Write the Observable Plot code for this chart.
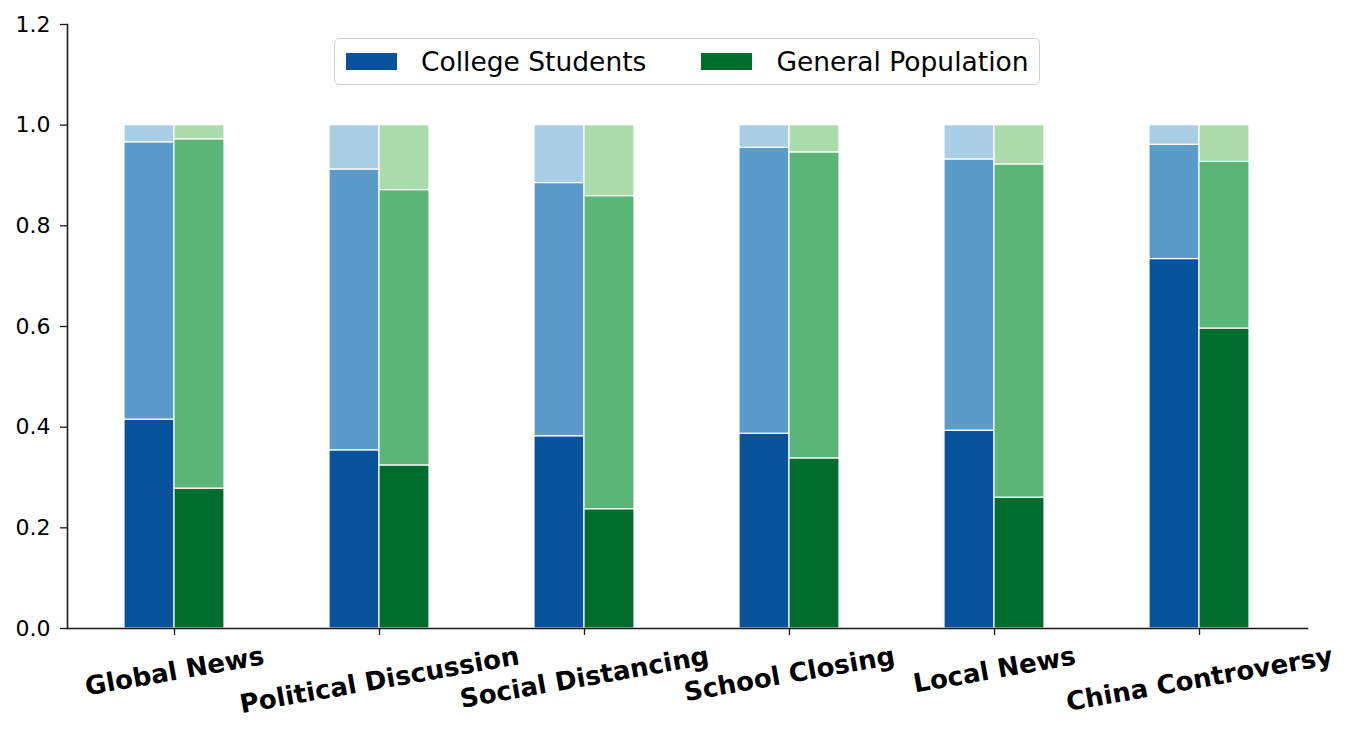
<!DOCTYPE html>
<html>
<head>
<meta charset="utf-8">
<script src="https://cdn.jsdelivr.net/npm/d3@7"></script>
<script src="https://cdn.jsdelivr.net/npm/@observablehq/plot@0.6"></script>
<style>
  html, body { margin: 0; padding: 0; background: #fff; }
  #wrap { position: relative; width: 1354px; height: 736px; font-family: "DejaVu Sans", sans-serif; }
  #legend {
    position: absolute; left: 334px; top: 38px; width: 706px; height: 47px;
    box-sizing: border-box; border: 1.5px solid #d2d2d2; border-radius: 5px;
    background: rgba(255,255,255,0.85); display: flex; align-items: center;
    font: 26.5px "DejaVu Sans", sans-serif; color: #000;
  }
  .sw { display: inline-block; width: 51px; height: 17px; }
</style>
</head>
<body>
<div id="wrap">
  <div id="chart"></div>
  <div id="legend">
    <span class="sw" style="margin-left:11px;background:#08529c"></span>
    <span style="margin-left:24px">College Students</span>
    <span class="sw" style="margin-left:55px;background:#006d2f"></span>
    <span style="margin-left:24px">General Population</span>
  </div>
</div>
<script>
const categories = ["Global News", "Political Discussion", "Social Distancing", "School Closing", "Local News", "China Controversy"];
// cumulative tops of the stacked segments (light segment always reaches 1.0)
const csDarkTop = [0.415, 0.354, 0.382, 0.387, 0.393, 0.734];
const csMidTop  = [0.966, 0.912, 0.885, 0.955, 0.932, 0.961];
const gpDarkTop = [0.278, 0.324, 0.237, 0.338, 0.260, 0.596];
const gpMidTop  = [0.972, 0.871, 0.859, 0.946, 0.922, 0.927];
const yTicks = [0, 0.2, 0.4, 0.6, 0.8, 1.0, 1.2];

const segKeys = ["cs-dark", "cs-mid", "cs-light", "gp-dark", "gp-mid", "gp-light"];
const segColors = ["#08529c", "#5b9bc9", "#a9cee6", "#006d2f", "#5bb577", "#acdcac"];

function rows(group, darkTop, midTop) {
  const out = [];
  categories.forEach((c, i) => {
    out.push({cat: c, key: group + "-dark", y1: 0, y2: darkTop[i]});
    out.push({cat: c, key: group + "-mid", y1: darkTop[i], y2: midTop[i]});
    out.push({cat: c, key: group + "-light", y1: midTop[i], y2: 1});
  });
  return out;
}
const csRows = rows("cs", csDarkTop, csMidTop);
const gpRows = rows("gp", gpDarkTop, gpMidTop);

// x tick labels: rotated, centred, with the rotated box's top aligned (like matplotlib)
const labelFont = 26;
const ctx = document.createElement("canvas").getContext("2d");
ctx.font = `bold ${labelFont}px "DejaVu Sans"`;
const rad = 10 * Math.PI / 180;
const labelMarks = categories.map(c => {
  const w = ctx.measureText(c).width;
  const h = labelFont * 1.164;
  const boxH = w * Math.sin(rad) + h * Math.cos(rad);
  return Plot.text([c], {
    x: d => d, frameAnchor: "bottom", dy: 12.5 + boxH / 2,
    rotate: -10, textAnchor: "middle", lineAnchor: "middle",
    fontSize: labelFont, fontWeight: "bold", fill: "black"
  });
});

const chart = Plot.plot({
  width: 1354,
  height: 736,
  marginLeft: 67,
  marginRight: 47,
  marginTop: 24,
  marginBottom: 108,
  style: {fontFamily: "DejaVu Sans", background: "white", color: "black"},
  x: {domain: categories, paddingInner: 0.512, paddingOuter: 0.28, label: null},
  y: {domain: [0, 1.2], label: null},
  color: {type: "ordinal", domain: segKeys, range: segColors},
  marks: [
    Plot.barY(csRows, {x: "cat", y1: "y1", y2: "y2", fill: "key", insetRight: 50, stroke: "white", strokeWidth: 1.2}),
    Plot.barY(gpRows, {x: "cat", y1: "y1", y2: "y2", fill: "key", insetLeft: 50, stroke: "white", strokeWidth: 1.2}),
    Plot.frame({anchor: "left", stroke: "#1a1a1a", strokeWidth: 1.6}),
    Plot.frame({anchor: "bottom", stroke: "#1a1a1a", strokeWidth: 1.6}),
    Plot.axisY({ticks: yTicks, tickFormat: d => d.toFixed(1), tickSize: 7, tickPadding: 10, fontSize: 22, stroke: "#1a1a1a", strokeWidth: 1.3, label: null}),
    Plot.axisX({tickSize: 7, tickFormat: () => "", stroke: "#1a1a1a", strokeWidth: 1.3, label: null}),
    ...labelMarks
  ]
});
document.getElementById("chart").appendChild(chart);
</script>
</body>
</html>
